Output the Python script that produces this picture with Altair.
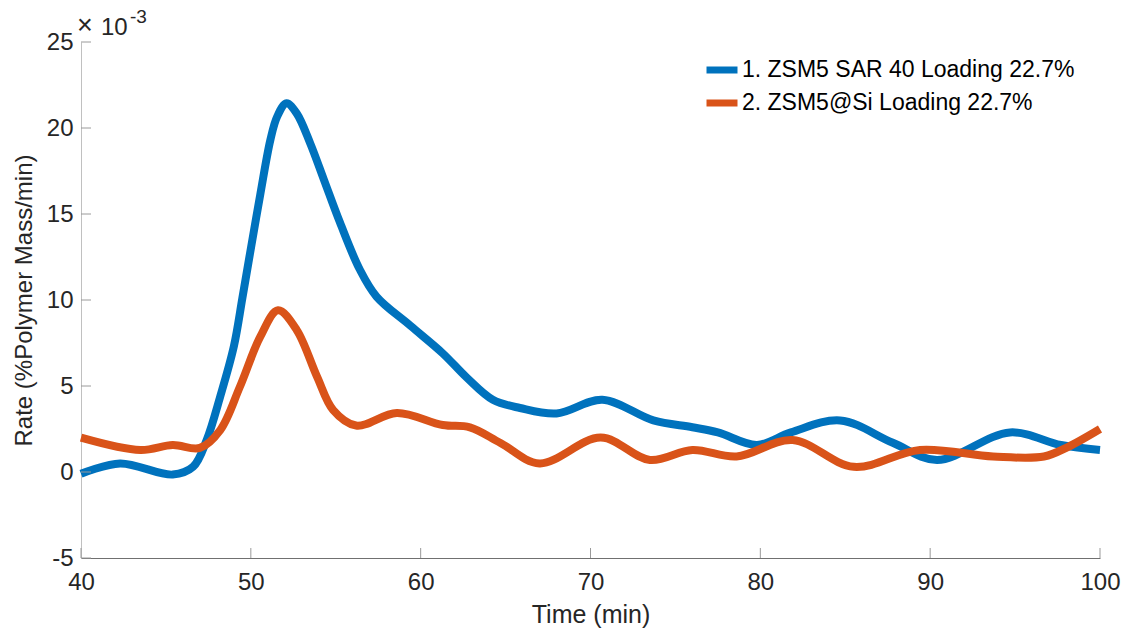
import altair as alt
import pandas as pd

# Data (rate values in units of 1e-3 %Polymer Mass/min)
blue_t = [40, 42.3, 45.4, 46.6, 47.4, 48.2, 49.0, 49.5, 49.95, 50.55, 51.15, 51.55, 52.1, 52.7,
          53.5, 54.3, 55.25, 56.4, 57.4, 59.4, 61.3, 62.7, 64.25, 65.85, 68.0, 70.7, 73.7,
          76.0, 77.5, 79.8, 81.8, 84.7, 87.8, 90.4, 94.7, 97.7, 100]
blue_v = [-0.1, 0.5, -0.15, 0.3, 1.86, 4.4, 7.3, 10.1, 12.7, 16.1, 19.3, 20.66, 21.44, 20.85,
          19.1, 17.0, 14.5, 11.8, 10.2, 8.5, 6.9, 5.5, 4.2, 3.72, 3.4, 4.2, 3.0,
          2.6, 2.3, 1.57, 2.3, 3.0, 1.7, 0.7, 2.3, 1.57, 1.28]
orange_t = [40, 43.5, 45.4, 47.0, 48.2, 49.35, 50.55, 51.6, 52.7, 53.9, 54.85, 56.2, 58.6, 61.3,
            62.9, 64.7, 67.0, 70.6, 73.5, 76.0, 78.6, 81.9, 85.5, 89.4, 93.7, 96.7, 98.1, 100]
orange_v = [2.0, 1.28, 1.57, 1.4, 2.44, 4.94, 7.85, 9.4, 8.26, 5.54, 3.6, 2.7, 3.43, 2.73,
            2.6, 1.69, 0.5, 2.0, 0.7, 1.28, 0.9, 1.86, 0.3, 1.28, 0.9, 0.9, 1.45, 2.5]

series_names = ["1. ZSM5 SAR 40 Loading 22.7%", "2. ZSM5@Si Loading 22.7%"]
series_colors = ["#0072BD", "#D95319"]
x_ticks = [40, 50, 60, 70, 80, 90, 100]
y_ticks = [-5, 0, 5, 10, 15, 20, 25]

W, H = 1019, 516
FONT = "Liberation Sans"
TXT = "#262626"

df = pd.concat([
    pd.DataFrame({"t": blue_t, "v": blue_v, "s": series_names[0], "o": 0}),
    pd.DataFrame({"t": orange_t, "v": orange_v, "s": series_names[1], "o": 1}),
])

xs = alt.Scale(domain=[40, 100], nice=False, zero=False)
ys = alt.Scale(domain=[-5, 25], nice=False, zero=False)

lines = alt.Chart(df).mark_line(strokeWidth=8, interpolate="catmull-rom", strokeCap="butt").encode(
    x=alt.X("t:Q", scale=xs,
            axis=alt.Axis(values=x_ticks, title="Time (min)", tickSize=0, labelPadding=12,
                          labelFlush=False, labelOverlap=False, domainColor="#707070",
                          grid=False, titlePadding=8, labelExpr="'' + datum.value",
                          labelFont=FONT, labelFontSize=24, labelColor=TXT,
                          titleFont=FONT, titleFontSize=25, titleColor=TXT,
                          titleFontWeight="normal")),
    y=alt.Y("v:Q", scale=ys,
            axis=alt.Axis(values=y_ticks, title="Rate (%Polymer Mass/min)", tickSize=0,
                          labelPadding=8, labelFlush=False, labelOverlap=False,
                          domainColor="#c0c0c0", grid=False, titlePadding=10,
                          labelExpr="'' + datum.value",
                          labelFont=FONT, labelFontSize=24, labelColor=TXT,
                          titleFont=FONT, titleFontSize=24, titleColor=TXT,
                          titleFontWeight="normal")),
    color=alt.Color("s:N", scale=alt.Scale(domain=series_names, range=series_colors),
                    legend=alt.Legend(orient="none", legendX=622, legendY=9, title=None,
                                      symbolType="stroke", symbolSize=961, symbolStrokeWidth=7,
                                      labelFontSize=23, labelFont=FONT, labelColor="#000000",
                                      labelLimit=600, rowPadding=0, labelOffset=1, padding=0)),
    order="o:Q",
)

yt = pd.DataFrame({"v": y_ticks})
xt = pd.DataFrame({"t": x_ticks})
ytick_rules = alt.Chart(yt).mark_rule(color="#9a9a9a", strokeWidth=1).encode(
    y=alt.Y("v:Q", scale=ys), x=alt.value(0), x2=alt.value(10))
xtick_rules = alt.Chart(xt).mark_rule(color="#9a9a9a", strokeWidth=1).encode(
    x=alt.X("t:Q", scale=xs), y=alt.value(H), y2=alt.value(H - 10))

exp_times = alt.Chart(pd.DataFrame({"a": ["×"]})).mark_text(
    font=FONT, color=TXT, align="left", baseline="alphabetic").encode(
    text="a:N", x=alt.value(-4), y=alt.value(-8), size=alt.value(27))
exp_base = alt.Chart(pd.DataFrame({"a": ["10"]})).mark_text(
    font=FONT, color=TXT, align="left", baseline="alphabetic").encode(
    text="a:N", x=alt.value(20), y=alt.value(-7), size=alt.value(24))
exp_sup = alt.Chart(pd.DataFrame({"a": ["-3"]})).mark_text(
    font=FONT, color=TXT, align="left", baseline="alphabetic").encode(
    text="a:N", x=alt.value(49), y=alt.value(-19), size=alt.value(19))

chart = alt.layer(lines, ytick_rules, xtick_rules, exp_times, exp_base, exp_sup).properties(
    width=W, height=H,
    autosize=alt.AutoSizeParams(type="none"),
    padding={"left": 81, "top": 42, "right": 23, "bottom": 76},
    background="white",
).configure_view(stroke=None)

chart.save("out.html", embed_options={"renderer": "svg", "actions": False})
